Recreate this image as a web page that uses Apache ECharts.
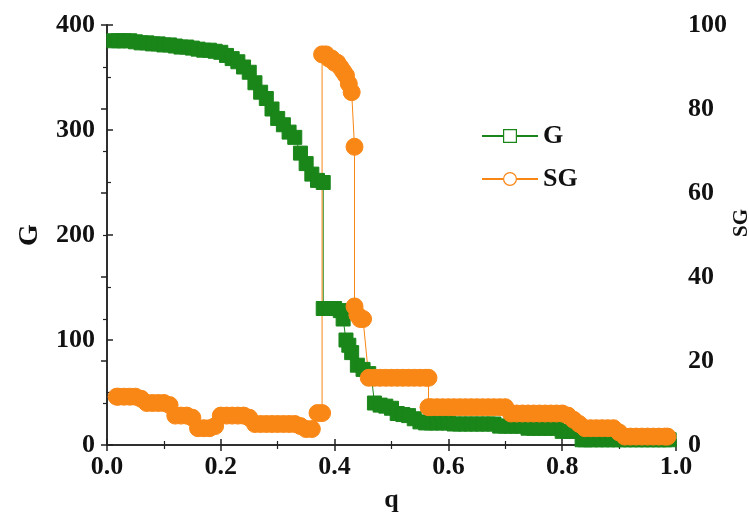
<!DOCTYPE html>
<html lang="en">
<head>
  <meta charset="UTF-8">
  <title>G / SG vs q</title>
  <style>
    html, body { margin: 0; padding: 0; background: #fff; }
  </style>
</head>
<body>
  <div id="main" style="width: 749px;height:518px;"></div>

  <script src="https://cdn.jsdelivr.net/npm/echarts@6/dist/echarts.min.js"></script>
  <script>
    // tick labels
    let xTicks = [0, 0.2, 0.4, 0.6, 0.8, 1.0];
    // [q, G]
    let gData = [
      [0.012, 385], [0.02, 385], [0.03, 385], [0.04, 385], [0.05, 384], [0.06, 383], [0.07, 383],
      [0.08, 382], [0.09, 382], [0.10, 381], [0.11, 381], [0.12, 380], [0.13, 379], [0.14, 379],
      [0.15, 378], [0.16, 377], [0.17, 376], [0.18, 376], [0.19, 375], [0.20, 374], [0.21, 371],
      [0.22, 368], [0.23, 365], [0.24, 360], [0.25, 355], [0.26, 345], [0.27, 336], [0.28, 330],
      [0.29, 320], [0.30, 311], [0.31, 305], [0.32, 298], [0.33, 293], [0.34, 278], [0.35, 268],
      [0.36, 258], [0.37, 252], [0.38, 250], [0.38, 130], [0.39, 130], [0.40, 130], [0.41, 128],
      [0.415, 120], [0.42, 100], [0.425, 95], [0.43, 88], [0.44, 76], [0.45, 72], [0.46, 68],
      [0.465, 64], [0.47, 40], [0.48, 38], [0.49, 37], [0.50, 35], [0.51, 30], [0.52, 29],
      [0.53, 28], [0.54, 25], [0.55, 22], [0.56, 21], [0.57, 21], [0.58, 21], [0.59, 21],
      [0.60, 21], [0.61, 20], [0.62, 20], [0.63, 20], [0.64, 20], [0.65, 20], [0.66, 20],
      [0.67, 20], [0.68, 20], [0.69, 18], [0.70, 18], [0.71, 18], [0.72, 18], [0.73, 18],
      [0.74, 16], [0.75, 16], [0.76, 16], [0.77, 16], [0.78, 16], [0.79, 16], [0.80, 13],
      [0.81, 13], [0.82, 13], [0.835, 5], [0.84, 5], [0.85, 5], [0.86, 5], [0.87, 5], [0.88, 5],
      [0.89, 5], [0.90, 5], [0.91, 5], [0.92, 5], [0.93, 5], [0.94, 5], [0.95, 5], [0.96, 5],
      [0.97, 5], [0.98, 5], [0.988, 5]
    ];
    // [q, SG]
    let sgData = [
      [0.017, 11.5], [0.02, 11.5], [0.03, 11.5], [0.04, 11.5], [0.05, 11.5], [0.06, 11],
      [0.07, 10], [0.08, 10], [0.09, 10], [0.10, 10], [0.11, 9.5], [0.12, 7], [0.13, 7],
      [0.14, 7], [0.15, 6.5], [0.16, 4], [0.17, 4], [0.18, 4], [0.19, 4.5], [0.20, 7],
      [0.21, 7], [0.22, 7], [0.23, 7], [0.24, 7], [0.25, 6.5], [0.26, 5], [0.27, 5], [0.28, 5],
      [0.29, 5], [0.30, 5], [0.31, 5], [0.32, 5], [0.33, 5], [0.34, 4.5], [0.35, 3.8],
      [0.36, 3.8], [0.37, 7.6], [0.378, 7.6], [0.378, 93], [0.385, 93], [0.39, 92], [0.395, 92],
      [0.40, 91], [0.405, 91], [0.41, 90], [0.415, 89], [0.42, 88], [0.425, 86], [0.43, 84],
      [0.435, 71], [0.435, 33], [0.44, 31], [0.445, 30], [0.45, 30], [0.46, 16], [0.47, 16],
      [0.48, 16], [0.49, 16], [0.50, 16], [0.51, 16], [0.52, 16], [0.53, 16], [0.54, 16],
      [0.55, 16], [0.56, 16], [0.565, 16], [0.565, 9], [0.57, 9], [0.58, 9], [0.59, 9],
      [0.60, 9], [0.61, 9], [0.62, 9], [0.63, 9], [0.64, 9], [0.65, 9], [0.66, 9], [0.67, 9],
      [0.68, 9], [0.69, 9], [0.70, 9], [0.71, 7.5], [0.72, 7.5], [0.73, 7.5], [0.74, 7.5],
      [0.75, 7.5], [0.76, 7.5], [0.77, 7.5], [0.78, 7.5], [0.79, 7.5], [0.80, 7.5], [0.81, 7],
      [0.82, 6], [0.83, 5], [0.84, 4], [0.85, 4], [0.86, 4], [0.87, 4], [0.88, 4], [0.89, 4],
      [0.90, 3], [0.91, 2], [0.92, 2], [0.93, 2], [0.94, 2], [0.95, 2], [0.96, 2], [0.97, 2],
      [0.98, 2], [0.985, 2]
    ];

    let green = '#1a861a';
    let orange = '#f98716';
    let serif = '"Liberation Serif", "DejaVu Serif", serif';
    let labelFont = {
      fontFamily: serif,
      fontWeight: 'bold',
      fontSize: 26,
      color: '#111'
    };
    let axisLine = { show: true, lineStyle: { color: '#222', width: 1.5 } };
    let tick = { show: true, inside: true, length: 6, lineStyle: { color: '#222', width: 1.5 } };
    let minor = { show: true, splitNumber: 2, length: 4, lineStyle: { color: '#222', width: 1.2 } };

    let chart = echarts.init(document.getElementById('main'));
    let option = {
      animation: false,
      backgroundColor: '#fff',
      grid: { left: 107, right: 73, top: 25, bottom: 73, containLabel: false, outerBoundsMode: 'none' },
      legend: {
        orient: 'vertical',
        left: 476,
        top: 118,
        itemWidth: 56,
        itemHeight: 16,
        itemGap: 17,
        textStyle: Object.assign({}, labelFont, { fontSize: 26 }),
        data: [
          { name: 'G', itemStyle: { color: '#fff', borderColor: green, borderWidth: 1.2 } },
          { name: 'SG', itemStyle: { color: '#fff', borderColor: orange, borderWidth: 1.2 } }
        ]
      },
      xAxis: [{
        type: 'value',
        min: 0,
        max: 1,
        interval: 0.2,
        name: 'q',
        nameLocation: 'middle',
        nameGap: 42,
        nameTextStyle: Object.assign({}, labelFont, { fontSize: 26 }),
        axisLine: axisLine,
        axisTick: tick,
        minorTick: minor,
        splitLine: { show: false },
        axisLabel: Object.assign({}, labelFont, {
          margin: 9,
          formatter: v => xTicks.indexOf(v) >= 0 ? v.toFixed(1) : ''
        })
      }, {
        type: 'value',
        position: 'top',
        min: 0,
        max: 1,
        interval: 0.2,
        axisLine: axisLine,
        axisTick: tick,
        minorTick: minor,
        splitLine: { show: false },
        axisLabel: { show: false }
      }],
      yAxis: [{
        type: 'value',
        min: 0,
        max: 400,
        interval: 100,
        name: 'G',
        nameLocation: 'middle',
        nameRotate: 90,
        nameGap: 63,
        nameTextStyle: Object.assign({}, labelFont, { fontSize: 28 }),
        axisLine: axisLine,
        axisTick: tick,
        minorTick: minor,
        splitLine: { show: false },
        axisLabel: Object.assign({}, labelFont, { margin: 12 })
      }, {
        type: 'value',
        position: 'right',
        min: 0,
        max: 100,
        interval: 20,
        name: 'SG',
        nameLocation: 'middle',
        nameRotate: 90,
        nameGap: 55,
        nameMoveOverlap: false,
        nameTextStyle: Object.assign({}, labelFont, { fontSize: 21, padding: [0, 0, 0, 24] }),
        axisLine: axisLine,
        axisTick: tick,
        minorTick: minor,
        splitLine: { show: false },
        axisLabel: Object.assign({}, labelFont, { margin: 12 })
      }],
      series: [{
        name: 'G',
        type: 'line',
        xAxisIndex: 0,
        yAxisIndex: 0,
        symbol: 'rect',
        symbolSize: 14,
        clip: false,
        lineStyle: { color: green, width: 1 },
        itemStyle: { color: green, borderColor: green, borderWidth: 1 },
        data: gData
      }, {
        name: 'SG',
        type: 'line',
        xAxisIndex: 0,
        yAxisIndex: 1,
        symbol: 'circle',
        symbolSize: 17,
        clip: false,
        lineStyle: { color: orange, width: 1 },
        itemStyle: { color: orange, borderColor: orange, borderWidth: 1 },
        data: sgData
      }]
    };
    chart.setOption(option);
  </script>
</body>
</html>
